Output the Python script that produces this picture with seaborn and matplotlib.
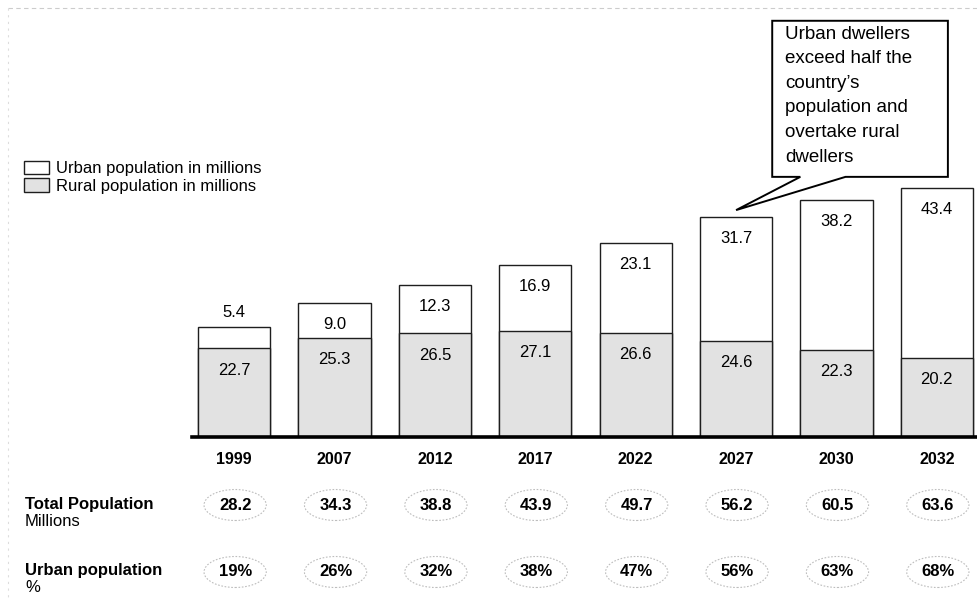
import numpy as np
import pandas as pd
import seaborn as sns
from matplotlib import pyplot as plt
from matplotlib.patches import Patch, Ellipse, Polygon
from matplotlib.transforms import blended_transform_factory

"""Данные"""
years = ['1999', '2007', '2012', '2017', '2022', '2027', '2030', '2032']
urban = [5.4, 9.0, 12.3, 16.9, 23.1, 31.7, 38.2, 43.4]
rural = [22.7, 25.3, 26.5, 27.1, 26.6, 24.6, 22.3, 20.2]
total_pop = ['28.2', '34.3', '38.8', '43.9', '49.7', '56.2', '60.5', '63.6']
urban_pct = ['19%', '26%', '32%', '38%', '47%', '56%', '63%', '68%']
callout = 'Urban dwellers\nexceed half the\ncountry\u2019s\npopulation and\novertake rural\ndwellers'

df = pd.DataFrame({'year': years, 'urban': urban, 'rural': rural})
df['total'] = df['urban'] + df['rural']

"""Стиль"""
sns.set_style('white')
plt.rcParams['font.family'] = ['Liberation Sans', 'DejaVu Sans']
plt.rcParams['text.color'] = 'black'
plt.rcParams['xtick.color'] = 'black'

edge = '#1e1e1e'
grey = '#e2e2e2'

fig = plt.figure(figsize=(9.77, 6.12), dpi=100)
ax = fig.add_axes([192 / 977, 1 - 437 / 612, 1 - 192 / 977, 417 / 612])

"""Столбцы"""
sns.barplot(data=df, x='year', y='total', color='white', saturation=1,
            edgecolor=edge, linewidth=1.0, width=0.72, ax=ax)
sns.barplot(data=df, x='year', y='rural', color=grey, saturation=1,
            edgecolor=edge, linewidth=1.0, width=0.72, ax=ax)

ax.set_xlim(-0.42, 7.40)
ax.set_ylim(0, 106.6)
ax.set_xlabel('')
ax.set_ylabel('')
ax.set_yticks([])
for s in ['top', 'left', 'right']:
    ax.spines[s].set_visible(False)
ax.spines['bottom'].set_linewidth(2.6)
ax.spines['bottom'].set_color('black')
ax.tick_params(axis='x', length=0, pad=11)
for lbl in ax.get_xticklabels():
    lbl.set_fontweight('bold')
    lbl.set_fontsize(11.5)

"""Подписи значений"""
for i, row in df.iterrows():
    if row['urban'] < 7:
        uy = row['total'] + 3.6
    else:
        uy = row['total'] - 5.5
    ax.text(i, uy, f"{row['urban']:.1f}", ha='center', va='center', fontsize=12)
    ax.text(i, row['rural'] - 5.6, f"{row['rural']:.1f}", ha='center', va='center', fontsize=12)

"""Выноска"""
bx0, bx1, by0, by1 = 5.36, 7.11, 66.5, 106.4
tip = (5.0, 58.0)
poly = Polygon([(bx0, by1), (bx1, by1), (bx1, by0), (6.09, by0), tip, (5.64, by0), (bx0, by0)],
               closed=True, facecolor='white', edgecolor='black', linewidth=1.4, clip_on=False, zorder=5)
ax.add_patch(poly)
ax.text(bx0 + 0.13, by1 - 1.3, callout, ha='left', va='top', fontsize=13.5,
        linespacing=1.58, zorder=6, clip_on=False)

"""Легенда"""
handles = [Patch(facecolor='white', edgecolor=edge, linewidth=1.0, label='Urban population in millions'),
           Patch(facecolor=grey, edgecolor=edge, linewidth=1.0, label='Rural population in millions')]
fig.legend(handles=handles, loc='upper left', bbox_to_anchor=(24 / 977, 1 - 161 / 612),
           frameon=False, fontsize=12, handlelength=1.5, handleheight=0.85,
           handletextpad=0.4, labelspacing=0.12, borderpad=0, borderaxespad=0)

"""Нижние строки"""
tr = blended_transform_factory(ax.transData, fig.transFigure)
rows = [(total_pop, 1 - 505 / 612), (urban_pct, 1 - 572 / 612)]
for vals, yy in rows:
    for i, v in enumerate(vals):
        ax.add_patch(Ellipse((i + 0.01, yy), 0.62, 31 / 612, transform=tr, facecolor='none',
                             edgecolor='#bdbdbd', linewidth=0.8, linestyle=(0, (1.5, 1.5)), clip_on=False))
        ax.text(i + 0.01, yy, v, transform=tr, ha='center', va='center',
                fontsize=12, fontweight='bold')

fig.text(25 / 977, 1 - 505 / 612, 'Total Population', fontsize=12, fontweight='bold', va='center')
fig.text(25 / 977, 1 - 522 / 612, 'Millions', fontsize=12, va='center')
fig.text(25 / 977, 1 - 570 / 612, 'Urban population', fontsize=12, fontweight='bold', va='center')
fig.text(25 / 977, 1 - 588 / 612, '%', fontsize=12, va='center')

"""Следы скана"""
fig.add_artist(plt.Line2D([8 / 977, 1], [1 - 8 / 612, 1 - 8 / 612], transform=fig.transFigure,
                          color='#cccccc', linewidth=0.8, linestyle=(0, (4, 3))))
fig.add_artist(plt.Line2D([8 / 977, 8 / 977], [1 - 8 / 612, 0.02], transform=fig.transFigure,
                          color='#dddddd', linewidth=0.8, linestyle=(0, (2, 4))))

fig.savefig('out.png', dpi=100)
